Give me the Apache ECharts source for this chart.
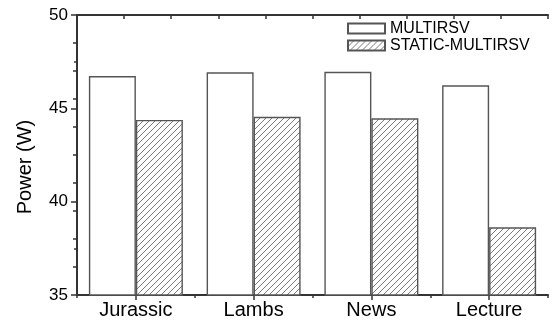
<!DOCTYPE html>
<html>
<head>
<meta charset="utf-8">
<style>
  html, body { margin: 0; padding: 0; background: #fff; }
  #chart { width: 555px; height: 322px; }
</style>
<script src="https://cdn.jsdelivr.net/npm/echarts@6/dist/echarts.min.js"></script>
</head>
<body>
<div id="chart"></div>
<script>
// Power draw per video sequence for the two schedulers
const categories = ['Jurassic', 'Lambs', 'News', 'Lecture'];
const multirsv = [46.73, 46.93, 46.96, 46.23];
const staticMultirsv = [44.38, 44.55, 44.47, 38.63];
const yTicks = [35, 40, 45, 50];

const FONT = '"Liberation Sans", Arial, sans-serif';
const AXIS_COLOR = '#333';
const BAR_BORDER = '#555';

// Diagonal hatch tile ("/" strokes) used as a repeating fill
function hatchTile() {
  const s = 6;
  const c = document.createElement('canvas');
  c.width = s; c.height = s;
  const g = c.getContext('2d');
  g.fillStyle = '#fff';
  g.fillRect(0, 0, s, s);
  g.strokeStyle = '#6a6a6a';
  g.lineWidth = 0.9;
  g.beginPath();
  g.moveTo(-1, s + 1); g.lineTo(s + 1, -1);
  g.moveTo(-1, 1); g.lineTo(1, -1);
  g.moveTo(s - 1, s + 1); g.lineTo(s + 1, s - 1);
  g.stroke();
  return c;
}

const chart = echarts.init(document.getElementById('chart'), null, { renderer: 'canvas' });

chart.setOption({
  animation: false,
  backgroundColor: '#fff',
  grid: { left: 77, right: 7, top: 15, bottom: 27, containLabel: false },
  legend: {
    orient: 'vertical',
    left: 347,
    top: 20,
    padding: 0,
    itemWidth: 37,
    itemHeight: 10,
    itemGap: 0,
    icon: 'rect',
    textStyle: { fontFamily: FONT, fontSize: 16, color: '#000', lineHeight: 17 },
    data: ['MULTIRSV', 'STATIC-MULTIRSV']
  },
  xAxis: [
    {
      type: 'category',
      data: categories,
      position: 'bottom',
      boundaryGap: true,
      axisLine: { show: true, lineStyle: { color: AXIS_COLOR, width: 2 } },
      axisTick: { show: true, alignWithLabel: true, inside: false, length: 5, lineStyle: { color: AXIS_COLOR, width: 1.5 } },
      axisLabel: { fontFamily: FONT, fontSize: 20, color: '#000', margin: 5 },
      splitLine: { show: false }
    },
    {
      // category boundary ticks
      type: 'value',
      position: 'bottom',
      min: 0, max: 4, interval: 1,
      axisLine: { show: false },
      axisTick: { show: true, inside: false, length: 3, lineStyle: { color: AXIS_COLOR, width: 1.5 } },
      axisLabel: { show: false },
      splitLine: { show: false }
    },
    {
      // mirrored top frame
      type: 'value',
      position: 'top',
      min: 0, max: 10, interval: 1,
      axisLine: { show: true, lineStyle: { color: AXIS_COLOR, width: 2 } },
      axisTick: { show: true, inside: true, length: 4, lineStyle: { color: AXIS_COLOR, width: 1.5 } },
      axisLabel: { show: false },
      splitLine: { show: false }
    }
  ],
  yAxis: [
    {
      type: 'value',
      position: 'left',
      min: yTicks[0],
      max: yTicks[yTicks.length - 1],
      interval: 5,
      axisLine: { show: true, lineStyle: { color: AXIS_COLOR, width: 2 } },
      axisTick: { show: true, inside: false, length: 6, lineStyle: { color: AXIS_COLOR, width: 1.5 } },
      minorTick: { show: true, splitNumber: 2, length: 3, lineStyle: { color: AXIS_COLOR, width: 1.5 } },
      axisLabel: { fontFamily: FONT, fontSize: 17, color: '#000', margin: 9 },
      splitLine: { show: false }
    },
    {
      // mirrored right frame
      type: 'value',
      position: 'right',
      min: 0, max: 10, interval: 1,
      axisLine: { show: true, lineStyle: { color: AXIS_COLOR, width: 2 } },
      axisTick: { show: true, inside: true, length: 4, lineStyle: { color: AXIS_COLOR, width: 1.5 } },
      axisLabel: { show: false },
      splitLine: { show: false }
    }
  ],
  graphic: [
    {
      type: 'text',
      x: 25,
      y: 167,
      rotation: Math.PI / 2,
      style: {
        text: 'Power (W)',
        font: '20px ' + FONT,
        fill: '#000',
        textAlign: 'center',
        textVerticalAlign: 'middle'
      }
    }
  ],
  series: [
    {
      name: 'MULTIRSV',
      type: 'bar',
      xAxisIndex: 0,
      yAxisIndex: 0,
      data: multirsv,
      barWidth: 47,
      barGap: '0%',
      itemStyle: { color: '#fff', borderColor: BAR_BORDER, borderWidth: 1.4 }
    },
    {
      name: 'STATIC-MULTIRSV',
      type: 'bar',
      xAxisIndex: 0,
      yAxisIndex: 0,
      data: staticMultirsv,
      barWidth: 47,
      barGap: '0%',
      itemStyle: {
        color: { image: hatchTile(), repeat: 'repeat' },
        borderColor: BAR_BORDER,
        borderWidth: 1.4
      }
    }
  ]
});
</script>
</body>
</html>
